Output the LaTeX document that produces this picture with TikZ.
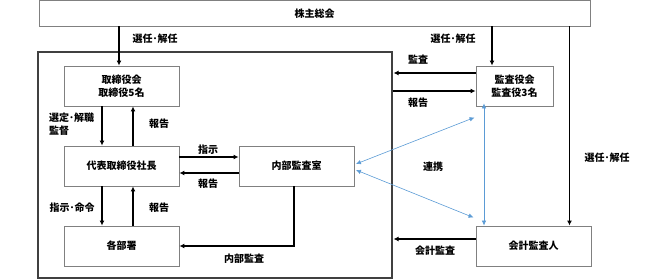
\documentclass[tikz,border=0pt]{standalone}
\usepackage{fontspec}
\setmainfont{Noto Sans CJK JP}
\usetikzlibrary{arrows.meta,calc}
\definecolor{boxgray}{RGB}{128,128,128}
\definecolor{bigedge}{RGB}{64,64,64}
\definecolor{linkblue}{RGB}{91,155,213}
\begin{document}
\begin{tikzpicture}[x=1pt,y=-1pt,
  font=\bfseries\fontsize{10}{13}\selectfont,
  box/.style={draw=boxgray, line width=0.9pt, fill=white, align=center, inner sep=0pt},
  arr/.style={line width=1.4pt, -{Latex[length=5pt,width=5pt]}},
  plain/.style={line width=1.4pt},
  link/.style={draw=linkblue, line width=0.6pt, {Latex[length=5pt,width=4.5pt]}-{Latex[length=5pt,width=4.5pt]}},
  lbl/.style={inner sep=0pt}]
\useasboundingbox (0,0) rectangle (646,280);
% boxes
\node[box, minimum width=551pt, minimum height=25.5pt] (top) at (314.5,13.25) {株主総会};
\node[draw=bigedge, line width=1.2pt, minimum width=354pt, minimum height=226pt, inner sep=0pt] (big) at (215,165) {};
\node[box, minimum width=115pt, minimum height=40pt] (tb) at (121.5,86) {取締役会\\取締役5名};
\node[box, minimum width=77pt, minimum height=40pt] (ka) at (514.5,86) {監査役会\\監査役3名};
\node[box, minimum width=115pt, minimum height=40pt] (ceo) at (121.5,166) {代表取締役社長};
\node[box, minimum width=115pt, minimum height=40pt] (ia) at (296.5,166) {内部監査室};
\node[box, minimum width=115pt, minimum height=40pt] (dept) at (121.5,246) {各部署};
\node[box, minimum width=115pt, minimum height=40pt] (acc) at (533.5,246) {会計監査人};
% guide coordinates
\coordinate (x102) at (102,0);
\coordinate (x119) at (119,0);
\coordinate (x133) at (133,0);
\coordinate (x294) at (294,0);
\coordinate (x484) at (484,0);
\coordinate (x492) at (492,0);
\coordinate (x570) at (569.5,0);
\coordinate (y73) at (0,73);
\coordinate (y91) at (0,91);
\coordinate (y157) at (0,157);
\coordinate (y164) at (0,164);
\coordinate (y170) at (0,170);
\coordinate (y173) at (0,173);
\coordinate (y239) at (0,239);
% black connectors
\draw[arr] (top.south -| x119) -- (tb.north -| x119);
\draw[arr] (top.south -| x492) -- (ka.north -| x492);
\draw[arr] (top.south -| x570) -- (acc.north -| x570);
\draw[arr] (ka.west |- y73) -- ([xshift=1pt]big.east |- y73);
\draw[arr] (big.east |- y91) -- (ka.west |- y91);
\draw[arr] (tb.south -| x102) -- (ceo.north -| x102);
\draw[arr] (ceo.north -| x133) -- (tb.south -| x133);
\draw[arr] (ceo.east |- y157) -- (ia.west |- y157);
\draw[arr] (ia.west |- y173) -- (ceo.east |- y173);
\draw[arr] (ceo.south -| x102) -- (dept.north -| x102);
\draw[arr] (dept.north -| x133) -- (ceo.south -| x133);
\draw[arr] (ia.south -| x294) |- (dept.east);
\draw[arr] (acc.west |- y239) -- ([xshift=1pt]big.east |- y239);
% blue links
\draw[link] ([xshift=1.5pt]ia.east |- y164) -- ([shift={(-1,11)}]ka.south west);
\draw[link] ([xshift=1.5pt]ia.east |- y170) -- ([shift={(-2,-8)}]acc.north west);
\draw[link] ([yshift=3pt]ka.south -| x484) -- (acc.north -| x484);
% labels
\node[lbl] (l1) at (155,39) {選任･解任};
\node[lbl] (l2) at (453,39) {選任･解任};
\node[lbl] (l3) at (607,158) {選任･解任};
\node[lbl] (l4) at (418,60) {監査};
\node[lbl] (l5) at (418,103) {報告};
\node[lbl, anchor=west, align=left] (l6) at (49,124.5) {選定･解職\\監督};
\node[lbl] (l7) at (159,124) {報告};
\node[lbl] (l8) at (208,150) {指示};
\node[lbl] (l9) at (208,184) {報告};
\node[lbl] (l10) at (72,208) {指示･命令};
\node[lbl] (l11) at (159,208) {報告};
\node[lbl] (l12) at (244,259) {内部監査};
\node[lbl] (l13) at (435,251) {会計監査};
\node[lbl] (l14) at (433,167) {連携};
\end{tikzpicture}
\end{document}
